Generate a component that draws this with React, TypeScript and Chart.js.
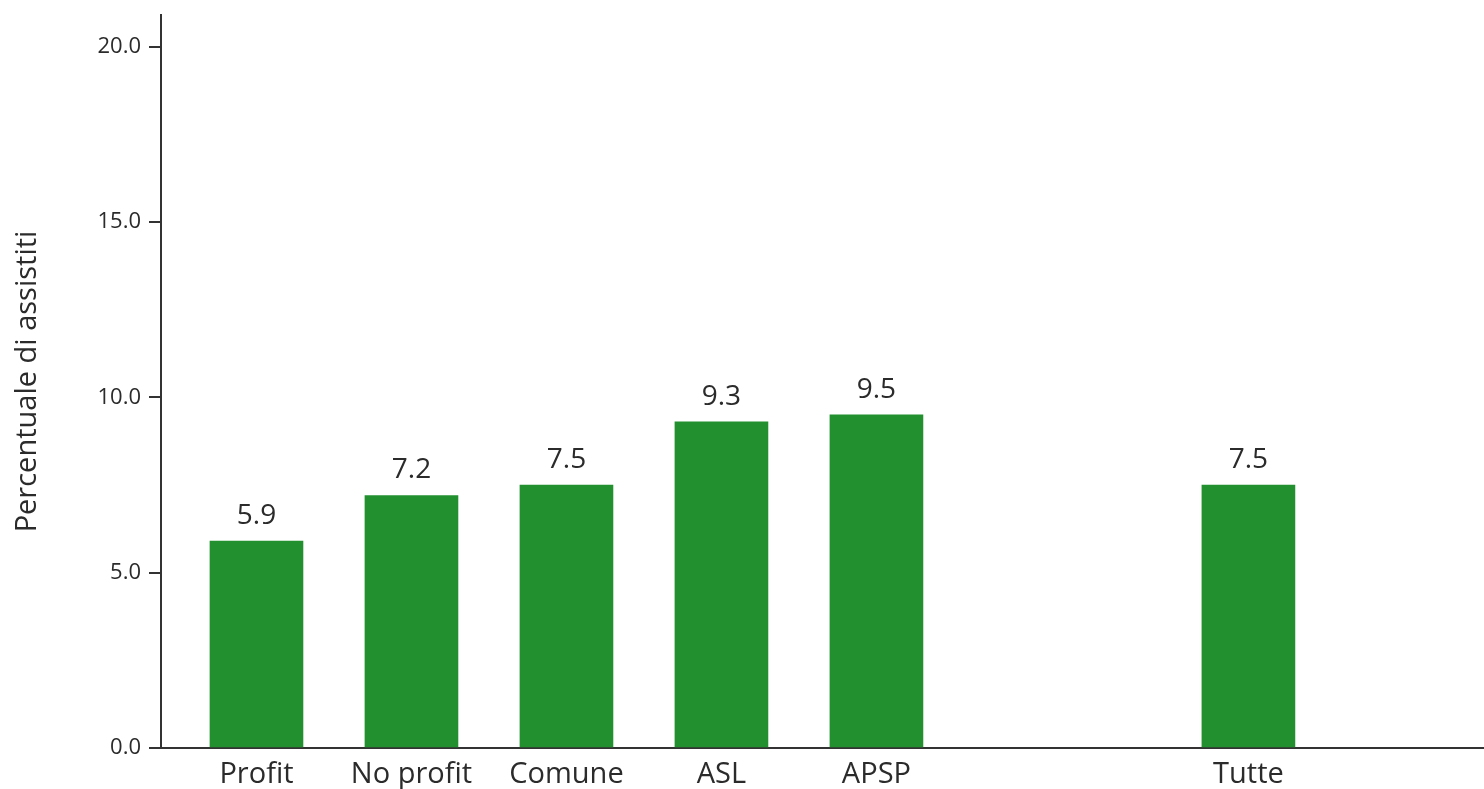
import React, { useEffect, useRef } from "react";
import { Chart, registerables } from "chart.js";

Chart.register(...registerables);

const categories = ["Profit", "No profit", "Comune", "ASL", "APSP", "Tutte"];
const values = [5.9, 7.2, 7.5, 9.3, 9.5, 7.5];
const positions = [1, 2, 3, 4, 5, 7.4];
const yTicks = [0, 5, 10, 15, 20];
const yTitle = "Percentuale di assistiti";

const FONT = "'Open Sans', 'Noto Sans', sans-serif";
const TEXT = "#2b2b2b";
const AXIS = "#333333";
const GREEN = "#22902f";

const valueLabels = {
  id: "valueLabels",
  afterDatasetsDraw(chart: any) {
    const ctx = chart.ctx;
    const meta = chart.getDatasetMeta(0);
    ctx.save();
    ctx.font = `28px ${FONT}`;
    ctx.fillStyle = TEXT;
    ctx.textAlign = "center";
    ctx.textBaseline = "alphabetic";
    meta.data.forEach((el: any, i: number) => {
      ctx.fillText(values[i].toFixed(1), el.x, el.y - 17);
    });
    ctx.restore();
  },
};

export default function App() {
  const ref = useRef<HTMLCanvasElement | null>(null);
  useEffect(() => {
    document.body.style.margin = "0";
    const canvas = ref.current;
    if (!canvas) return;
    const chart = new Chart(canvas, {
      type: "bar",
      data: {
        datasets: [
          {
            data: positions.map((p, i) => ({ x: p, y: values[i] })),
            backgroundColor: GREEN,
            borderWidth: 0,
            barThickness: 93,
          },
        ],
      },
      options: {
        animation: false,
        responsive: true,
        maintainAspectRatio: false,
        layout: { padding: { top: 15, right: 0, left: 0, bottom: 0 } },
        plugins: { legend: { display: false }, tooltip: { enabled: false } },
        scales: {
          x: {
            type: "linear",
            offset: false,
            min: 0.384,
            max: 8.92,
            afterBuildTicks: (scale: any) => {
              scale.ticks = positions.map((p) => ({ value: p }));
            },
            afterFit: (scale: any) => {
              scale.height = 41;
            },
            ticks: {
              autoSkip: false,
              maxRotation: 0,
              padding: 9,
              color: TEXT,
              font: { family: FONT, size: 29 },
              callback: (v: any) => {
                const idx = positions.indexOf(Number(v));
                return idx >= 0 ? categories[idx] : "";
              },
            },
            grid: { drawOnChartArea: false, drawTicks: false },
            border: { display: true, color: AXIS, width: 2 },
          },
          y: {
            min: 0,
            max: 20.9,
            afterBuildTicks: (scale: any) => {
              scale.ticks = yTicks.map((v) => ({ value: v }));
            },
            afterFit: (scale: any) => {
              scale.width = 161;
              scale.paddingTop = 0;
              scale.paddingBottom = 0;
            },
            ticks: {
              padding: 8,
              color: TEXT,
              font: { family: FONT, size: 22 },
              callback: (v: any) => Number(v).toFixed(1),
            },
            grid: {
              drawOnChartArea: false,
              drawTicks: true,
              tickLength: 12,
              color: AXIS,
              lineWidth: 2,
            },
            border: { display: true, color: AXIS, width: 2 },
            title: {
              display: true,
              text: yTitle,
              color: TEXT,
              font: { family: FONT, size: 29 },
              padding: { top: 10, bottom: 0 },
            },
          },
        },
      },
      plugins: [valueLabels],
    });
    return () => chart.destroy();
  }, []);
  return (
    <div style={{ width: 1484, height: 789, position: "relative" }}>
      <canvas ref={ref} />
    </div>
  );
}
